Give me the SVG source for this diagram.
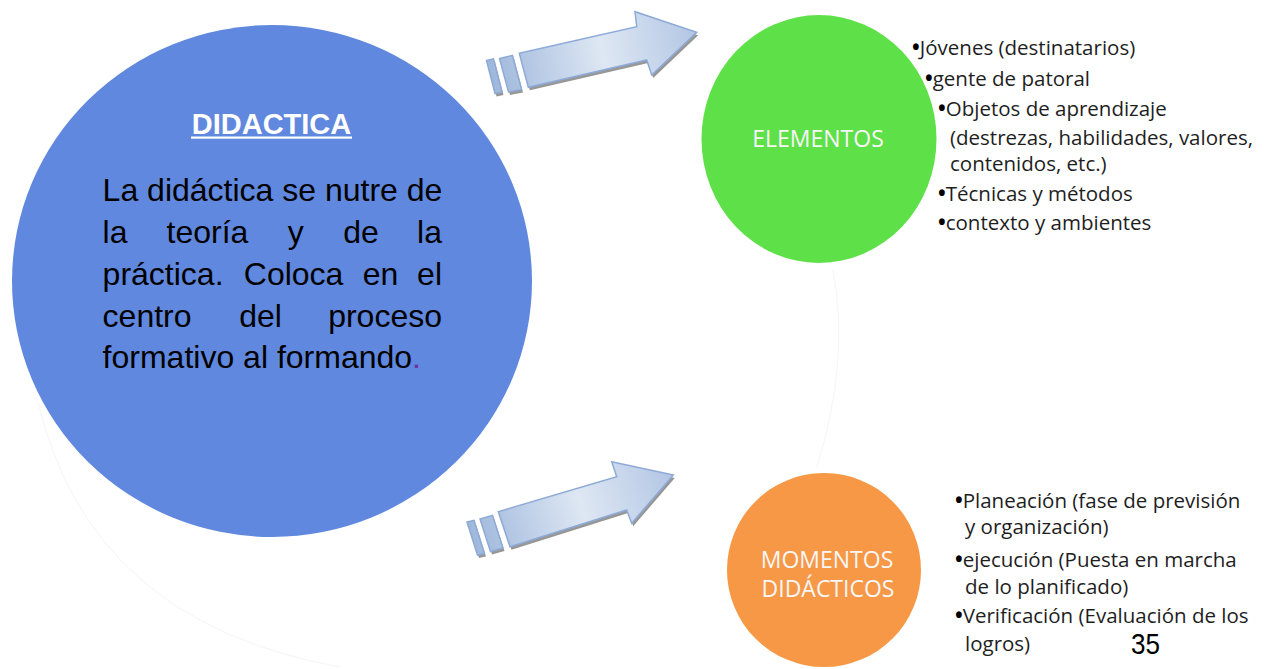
<svg xmlns="http://www.w3.org/2000/svg" width="1279" height="669" viewBox="0 0 1279 669">
<defs>
<style>
.main{font-family:"Liberation Sans",Arial,sans-serif;font-size:32px;fill:#000}
.title{font-family:"Liberation Sans",Arial,sans-serif;font-size:29px;font-weight:bold;fill:#fff}
.lbl{font-family:"Open Sans","Liberation Sans",sans-serif;font-size:23px;fill:#f6f6f6;text-anchor:middle}
.li{font-family:"Open Sans","Liberation Sans",sans-serif;font-size:20.5px;fill:#1e1e1e}
.b{font-weight:bold;fill:#000}
.ghost{fill:none;stroke:#f5f5f5;stroke-width:1}
.arr{stroke:#8eabd7;stroke-width:1.5;stroke-linejoin:miter}
.shd{fill:url(#chk);stroke:none}
</style>
<pattern id="chk" width="2" height="2" patternUnits="userSpaceOnUse">
<rect width="2" height="2" fill="#d8d8d8"/>
<rect width="1" height="1" fill="#555"/>
<rect x="1" y="1" width="1" height="1" fill="#555"/>
</pattern>
<linearGradient id="g1" gradientUnits="userSpaceOnUse" x1="486" y1="76" x2="697" y2="32">
<stop offset="0" stop-color="#9cb5da"/>
<stop offset="0.3" stop-color="#bfd0e8"/>
<stop offset="0.55" stop-color="#dee7f3"/>
<stop offset="0.8" stop-color="#c6d5eb"/>
<stop offset="1" stop-color="#b2c5e3"/>
</linearGradient>
<linearGradient id="g2" gradientUnits="userSpaceOnUse" x1="467" y1="538" x2="673" y2="475">
<stop offset="0" stop-color="#9cb5da"/>
<stop offset="0.3" stop-color="#bfd0e8"/>
<stop offset="0.55" stop-color="#dee7f3"/>
<stop offset="0.8" stop-color="#c6d5eb"/>
<stop offset="1" stop-color="#b2c5e3"/>
</linearGradient>
</defs>
<rect width="1279" height="669" fill="#fff"/>

<g id="ghost-lines">
<path class="ghost" d="M38,402 Q90,622 340,667"/>
<path class="ghost" d="M833,270 Q850,360 817,467"/>
</g>

<g id="node-didactica">
<ellipse cx="272" cy="281" rx="260" ry="256" fill="#6088de"/>
<text class="title" x="271.5" y="134" text-anchor="middle">DIDACTICA</text>
<rect x="191" y="136.5" width="161" height="2.2" fill="#fff"/>
<text class="main" x="102.6" y="201">La didáctica se nutre de</text>
<text class="main" y="243"><tspan x="102.6">la</tspan><tspan x="166.5">teoría</tspan><tspan x="287.8">y</tspan><tspan x="343.3">de</tspan></text>
<text class="main" x="442" y="243" text-anchor="end">la</text>
<text class="main" y="285"><tspan x="102.6">práctica.</tspan><tspan x="243.8">Coloca</tspan><tspan x="362.8">en</tspan></text>
<text class="main" x="442" y="285" text-anchor="end">el</text>
<text class="main" y="327"><tspan x="102.6">centro</tspan><tspan x="239.2">del</tspan></text>
<text class="main" x="442" y="327" text-anchor="end">proceso</text>
<text class="main" x="102.6" y="368">formativo al formando<tspan fill="#7030a0">.</tspan></text>
</g>

<g id="connectors">
<g id="arrow-top">
<g transform="translate(1.5,3)">
<polygon class="shd" points="519.3,53.3 636.7,26.7 635,11.7 696.7,32.3 651.7,75 646.7,60 528.3,87.3"/>
<polygon class="shd" points="499.5,58.5 512.5,55.5 521.5,89.5 508.5,92"/>
<polygon class="shd" points="486.5,60.5 493.5,59 502,92 495,93.5"/>
</g>
<polygon class="arr" fill="url(#g1)" points="519.3,53.3 636.7,26.7 635,11.7 696.7,32.3 651.7,75 646.7,60 528.3,87.3"/>
<polygon class="arr" fill="url(#g1)" points="499.5,58.5 512.5,55.5 521.5,89.5 508.5,92"/>
<polygon class="arr" fill="url(#g1)" points="486.5,60.5 493.5,59 502,92 495,93.5"/>
</g>
<g id="arrow-bottom">
<g transform="translate(1.5,3)">
<polygon class="shd" points="498.3,511.7 616.7,476.7 611.7,461.7 673.3,475 631.7,523.3 626.7,510 510,546.7"/>
<polygon class="shd" points="480,519 492.5,515.5 503,548 490.5,551.5"/>
<polygon class="shd" points="467,522 474,520.5 484.5,553.5 477.5,555"/>
</g>
<polygon class="arr" fill="url(#g2)" points="498.3,511.7 616.7,476.7 611.7,461.7 673.3,475 631.7,523.3 626.7,510 510,546.7"/>
<polygon class="arr" fill="url(#g2)" points="480,519 492.5,515.5 503,548 490.5,551.5"/>
<polygon class="arr" fill="url(#g2)" points="467,522 474,520.5 484.5,553.5 477.5,555"/>
</g>
</g>

<g id="node-elementos">
<ellipse cx="819" cy="139" rx="117.5" ry="124" fill="#5ee048"/>
<text class="lbl" x="818" y="147">ELEMENTOS</text>
</g>

<g id="list-elementos">
<text class="li" x="912" y="55"><tspan class="b">•</tspan>Jóvenes (destinatarios)</text>
<text class="li" x="925" y="86"><tspan class="b">•</tspan>gente de patoral</text>
<text class="li" x="938" y="116"><tspan class="b">•</tspan>Objetos de aprendizaje</text>
<text class="li" x="950" y="145">(destrezas, habilidades, valores,</text>
<text class="li" x="950" y="171">contenidos, etc.)</text>
<text class="li" x="938" y="201"><tspan class="b">•</tspan>Técnicas y métodos</text>
<text class="li" x="938" y="230"><tspan class="b">•</tspan>contexto y ambientes</text>
</g>

<g id="node-momentos">
<ellipse cx="824" cy="570" rx="97" ry="97" fill="#f69846"/>
<text class="lbl" x="827" y="568">MOMENTOS</text>
<text class="lbl" x="828" y="597">DIDÁCTICOS</text>
</g>

<g id="list-momentos">
<text class="li" x="955" y="508"><tspan class="b">•</tspan>Planeación (fase de previsión</text>
<text class="li" x="965" y="534">y organización)</text>
<text class="li" x="955" y="567"><tspan class="b">•</tspan>ejecución (Puesta en marcha</text>
<text class="li" x="965" y="594">de lo planificado)</text>
<text class="li" x="955" y="623"><tspan class="b">•</tspan>Verificación (Evaluación de los</text>
<text class="li" x="965" y="651">logros)</text>
</g>

<text x="1131" y="654" font-family="'Liberation Sans Narrow','Liberation Sans',Arial,sans-serif" font-size="30" fill="#000" textLength="29" lengthAdjust="spacingAndGlyphs">35</text>
</svg>
